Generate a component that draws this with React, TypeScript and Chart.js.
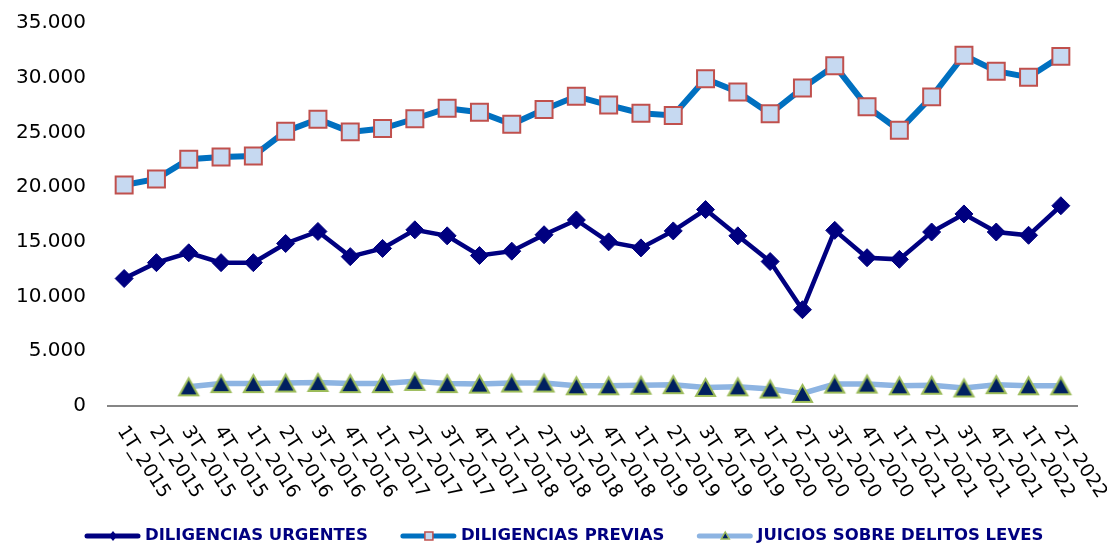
import React, { useEffect, useRef } from 'react';
import { Chart, registerables } from 'chart.js';

Chart.register(...registerables);

const categories = [
  '1T_2015', '2T_2015', '3T_2015', '4T_2015',
  '1T_2016', '2T_2016', '3T_2016', '4T_2016',
  '1T_2017', '2T_2017', '3T_2017', '4T_2017',
  '1T_2018', '2T_2018', '3T_2018', '4T_2018',
  '1T_2019', '2T_2019', '3T_2019', '4T_2019',
  '1T_2020', '2T_2020', '3T_2020', '4T_2020',
  '1T_2021', '2T_2021', '3T_2021', '4T_2021',
  '1T_2022', '2T_2022',
];

const diligenciasUrgentes = [
  11650, 13100, 14000, 13100, 13100, 14850, 15950, 13650, 14400, 16100,
  15550, 13750, 14150, 15650, 17000, 15000, 14450, 16000, 17950, 15550,
  13200, 8800, 16050, 13550, 13400, 15900, 17550, 15900, 15600, 18300,
];

const diligenciasPrevias = [
  20200, 20750, 22550, 22750, 22850, 25100, 26200, 25050, 25350, 26250,
  27200, 26850, 25750, 27100, 28300, 27500, 26750, 26550, 29900, 28700,
  26700, 29050, 31100, 27350, 25200, 28250, 32050, 30600, 30050, 31950,
];

const juiciosDelitosLeves = [
  null, null, 1750, 2050, 2050, 2100, 2150, 2050, 2050, 2250,
  2050, 2000, 2100, 2100, 1850, 1850, 1900, 1950, 1700, 1750,
  1550, 1150, 2000, 2000, 1850, 1900, 1650, 1950, 1850, 1850,
];

const seriesNames = ['DILIGENCIAS URGENTES', 'DILIGENCIAS PREVIAS', 'JUICIOS SOBRE DELITOS LEVES'];

const yTicks = [0, 5000, 10000, 15000, 20000, 25000, 30000, 35000];

const FONT = "'DejaVu Sans', Verdana, sans-serif";

const fmt = (v: number) => String(v).replace(/\B(?=(\d{3})+(?!\d))/g, '.');

function makeTriangle(w: number, h: number, fill: string, stroke: string, lw: number) {
  const c = document.createElement('canvas');
  const pad = lw + 1;
  c.width = w + pad * 2;
  c.height = h + pad * 2;
  const ctx = c.getContext('2d')!;
  ctx.beginPath();
  ctx.moveTo(pad + w / 2, pad);
  ctx.lineTo(pad + w, pad + h);
  ctx.lineTo(pad, pad + h);
  ctx.closePath();
  ctx.fillStyle = fill;
  ctx.fill();
  ctx.lineWidth = lw;
  ctx.strokeStyle = stroke;
  ctx.lineJoin = 'miter';
  ctx.stroke();
  return c;
}

export default function App() {
  const ref = useRef<HTMLCanvasElement>(null);

  useEffect(() => {
    if (!ref.current) return;
    const tri = makeTriangle(19, 17, '#002060', '#9BBB59', 2);

    const xLabelPlugin = {
      id: 'xLabels',
      afterDraw(chart: any) {
        const ctx = chart.ctx;
        const xs = chart.scales.x;
        ctx.save();
        ctx.font = `19px ${FONT}`;
        ctx.fillStyle = '#000000';
        ctx.textAlign = 'left';
        ctx.textBaseline = 'middle';
        categories.forEach((c, i) => {
          const x = xs.getPixelForValue(i);
          ctx.save();
          ctx.translate(x - 3, xs.top + 22);
          ctx.rotate((57 * Math.PI) / 180);
          ctx.fillText(c, 0, 0);
          ctx.restore();
        });
        ctx.restore();
      },
    };

    const legendPlugin = {
      id: 'customLegend',
      afterDraw(chart: any) {
        const ctx = chart.ctx;
        const y = chart.height - 8;
        const lineColors = ['#000080', '#0070C0', '#8DB4E2'];
        ctx.save();
        ctx.font = `bold 16.5px ${FONT}`;
        ctx.textBaseline = 'middle';
        ctx.textAlign = 'left';
        let x = 85;
        seriesNames.forEach((name, i) => {
          ctx.strokeStyle = lineColors[i];
          ctx.lineWidth = 5;
          ctx.lineCap = 'round';
          ctx.beginPath();
          ctx.moveTo(x + 2, y);
          ctx.lineTo(x + 53, y);
          ctx.stroke();
          const mx = x + 28;
          if (i === 0) {
            ctx.fillStyle = '#000080';
            ctx.beginPath();
            ctx.moveTo(mx, y - 5);
            ctx.lineTo(mx + 4, y);
            ctx.lineTo(mx, y + 5);
            ctx.lineTo(mx - 4, y);
            ctx.closePath();
            ctx.fill();
          } else if (i === 1) {
            ctx.fillStyle = '#C6D9F1';
            ctx.fillRect(mx - 4, y - 4, 8, 8);
            ctx.strokeStyle = '#C0504D';
            ctx.lineWidth = 1.5;
            ctx.strokeRect(mx - 4, y - 4, 8, 8);
          } else {
            ctx.fillStyle = '#002060';
            ctx.strokeStyle = '#9BBB59';
            ctx.lineWidth = 1.5;
            ctx.beginPath();
            ctx.moveTo(mx, y - 4);
            ctx.lineTo(mx + 4, y + 3);
            ctx.lineTo(mx - 4, y + 3);
            ctx.closePath();
            ctx.fill();
            ctx.stroke();
          }
          const tx = x + 60;
          ctx.fillStyle = '#000080';
          ctx.fillText(name, tx, y);
          x = tx + ctx.measureText(name).width + 33;
        });
        ctx.restore();
      },
    };

    const chart = new Chart(ref.current, {
      type: 'line',
      data: {
        labels: categories,
        datasets: [
          {
            label: seriesNames[0],
            data: diligenciasUrgentes,
            borderColor: '#000080',
            borderWidth: 4.5,
            pointStyle: 'rectRot',
            pointRadius: 9,
            pointBackgroundColor: '#000080',
            pointBorderColor: '#000080',
            pointBorderWidth: 1,
            tension: 0,
          },
          {
            label: seriesNames[1],
            data: diligenciasPrevias,
            borderColor: '#0070C0',
            borderWidth: 6,
            pointStyle: 'rect',
            pointRadius: 12,
            pointBackgroundColor: '#C6D9F1',
            pointBorderColor: '#C0504D',
            pointBorderWidth: 2,
            tension: 0,
          },
          {
            label: seriesNames[2],
            data: juiciosDelitosLeves,
            borderColor: '#8DB4E2',
            borderWidth: 5.5,
            pointStyle: tri,
            pointRadius: 10,
            tension: 0,
            spanGaps: false,
          },
        ],
      },
      options: {
        responsive: false,
        animation: false,
        events: [],
        layout: { autoPadding: false, padding: { top: 23, right: 30, left: 0, bottom: 0 } },
        plugins: {
          legend: { display: false },
          tooltip: { enabled: false },
        },
        scales: {
          x: {
            type: 'category',
            offset: true,
            grid: { display: false, drawTicks: false },
            border: { display: true, color: '#868686', width: 2 },
            ticks: { display: false },
            afterFit: (s: any) => {
              s.height = 138;
              s.paddingLeft = 0;
              s.paddingRight = 0;
            },
          },
          y: {
            min: 0,
            max: 35000,
            grid: { display: false, drawTicks: false },
            border: { display: false },
            afterBuildTicks: (s: any) => {
              s.ticks = yTicks.map((v) => ({ value: v }));
            },
            ticks: {
              padding: 22,
              color: '#000000',
              font: { family: FONT, size: 20 },
              callback: (v: any) => fmt(Number(v)),
            },
            afterFit: (s: any) => {
              s.width = 108;
              s.paddingTop = 0;
              s.paddingBottom = 0;
            },
          },
        },
      },
      plugins: [xLabelPlugin, legendPlugin],
    });
    return () => chart.destroy();
  }, []);

  return (
    <div style={{ position: 'fixed', left: 0, top: 0, width: 1107, height: 544, background: '#fff' }}>
      <canvas ref={ref} width={1107} height={544} />
    </div>
  );
}
